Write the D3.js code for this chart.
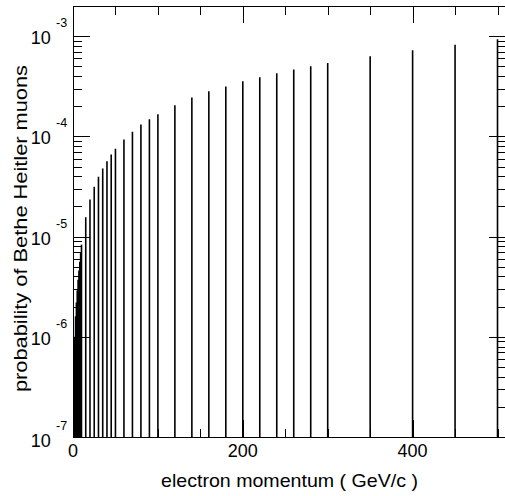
<!DOCTYPE html>
<html><head><meta charset="utf-8">
<script src="https://cdn.jsdelivr.net/npm/d3@7"></script>
<style>
body{margin:0;background:#fff}
svg{display:block}
text{font-family:"Liberation Sans",Arial,Helvetica,sans-serif;fill:#000}
</style>
</head><body>
<svg id="chart" width="505" height="496"></svg>
<script>
// electron momentum points (GeV/c)
const momentum = [1,2,3,4,5,6,7,8,9,
  10,15,20,25,30,35,40,45,50,
  60,70,80,90,100,
  120,140,160,180,200,220,240,260,280,300,
  350,400,450,500];
// probability of a Bethe-Heitler muon pair at each momentum
const probability = [5.0e-7,1.0e-6,1.6e-6,2.2e-6,2.9e-6,3.7e-6,4.6e-6,5.6e-6,6.9e-6,
  8.3e-6,1.56e-5,2.34e-5,3.14e-5,3.95e-5,4.79e-5,5.66e-5,6.61e-5,7.53e-5,
  9.33e-5,1.11e-4,1.31e-4,1.48e-4,1.66e-4,
  2.04e-4,2.45e-4,2.82e-4,3.14e-4,3.55e-4,3.89e-4,4.27e-4,4.65e-4,5.01e-4,5.41e-4,
  6.31e-4,7.24e-4,8.19e-4,9.33e-4];

const xMajor = [0,200,400];
const xMinor = [50,100,150,250,300,350,450,500];
const yExponents = [-7,-6,-5,-4,-3];
const xTitle = "electron momentum ( GeV/c )";
const yTitle = "probability of Bethe Heitler muons";

const X0 = 73, X1 = 506, Y0 = 6, Y1 = 437;
const x = d3.scaleLinear().domain([0, 510]).range([X0, X1]);
const y = d3.scaleLog().domain([1e-7, 2e-3]).range([Y1, Y0]);

const yMajor = yExponents.map(e => Math.pow(10, e));
const yMinor = [];
yExponents.forEach(e => { for (let k = 2; k <= 9; k++) { const v = k * Math.pow(10, e); if (v <= 2e-3) yMinor.push(v); } });

const svg = d3.select("#chart");
const MAJ = 17, MIN = 8.5;

// bars: one vertical line per momentum point
svg.append("g").selectAll("line").data(momentum).join("line")
  .attr("x1", (d) => x(d)).attr("x2", (d) => x(d))
  .attr("y1", y(1e-7)).attr("y2", (d, i) => y(probability[i]))
  .attr("stroke", "#000").attr("stroke-width", 1.6);

function styleAxis(g) {
  g.selectAll("path,line").attr("stroke", "#000").attr("stroke-width", 1).attr("shape-rendering", "crispEdges");
  g.selectAll("text").remove();
}

// frame axes with ticks pointing into the plot
svg.append("g").attr("transform", `translate(0,${Y1})`)
  .call(d3.axisBottom(x).tickValues(xMajor).tickSize(-MAJ).tickSizeOuter(0)).call(styleAxis);
svg.append("g").attr("transform", `translate(0,${Y1})`)
  .call(d3.axisBottom(x).tickValues(xMinor).tickSize(-MIN).tickSizeOuter(0)).call(styleAxis);
svg.append("g").attr("transform", `translate(0,${Y0})`)
  .call(d3.axisTop(x).tickValues(xMajor).tickSize(-MAJ).tickSizeOuter(0)).call(styleAxis);
svg.append("g").attr("transform", `translate(0,${Y0})`)
  .call(d3.axisTop(x).tickValues(xMinor).tickSize(-MIN).tickSizeOuter(0)).call(styleAxis);
svg.append("g").attr("transform", `translate(${X0},0)`)
  .call(d3.axisLeft(y).tickValues(yMajor).tickSize(-MAJ).tickSizeOuter(0)).call(styleAxis);
svg.append("g").attr("transform", `translate(${X0},0)`)
  .call(d3.axisLeft(y).tickValues(yMinor).tickSize(-MIN).tickSizeOuter(0)).call(styleAxis);
svg.append("g").attr("transform", `translate(${X1},0)`)
  .call(d3.axisRight(y).tickValues(yMajor).tickSize(-MAJ).tickSizeOuter(0)).call(styleAxis);
svg.append("g").attr("transform", `translate(${X1},0)`)
  .call(d3.axisRight(y).tickValues(yMinor).tickSize(-MIN).tickSizeOuter(0)).call(styleAxis);

// y tick labels as 10 with a raised exponent
const yl = svg.append("g");
yExponents.forEach(e => {
  const py = y(Math.pow(10, e));
  yl.append("text").attr("x", 50.7).attr("y", py + 8 + (e === -7 ? 2 : 0)).attr("text-anchor", "end")
    .attr("font-size", 18).text("10");
  yl.append("text").attr("x", 56).attr("y", py - 9 + (e === -7 ? 2 : 0))
    .attr("font-size", 12.5).text(String(e));
});

// x tick labels
svg.append("g").selectAll("text").data(xMajor).join("text")
  .attr("x", (d) => x(d)).attr("y", 457).attr("text-anchor", "middle")
  .attr("font-size", 18).text((d) => d);

// axis titles
svg.append("text").attr("x", 161).attr("y", 486.5)
  .attr("font-size", 19).attr("textLength", 257).attr("lengthAdjust", "spacingAndGlyphs").text(xTitle);
svg.append("text").attr("transform", "translate(26.5,392) rotate(-90)")
  .attr("font-size", 19).attr("textLength", 327).attr("lengthAdjust", "spacingAndGlyphs").text(yTitle);
</script>
</body></html>
